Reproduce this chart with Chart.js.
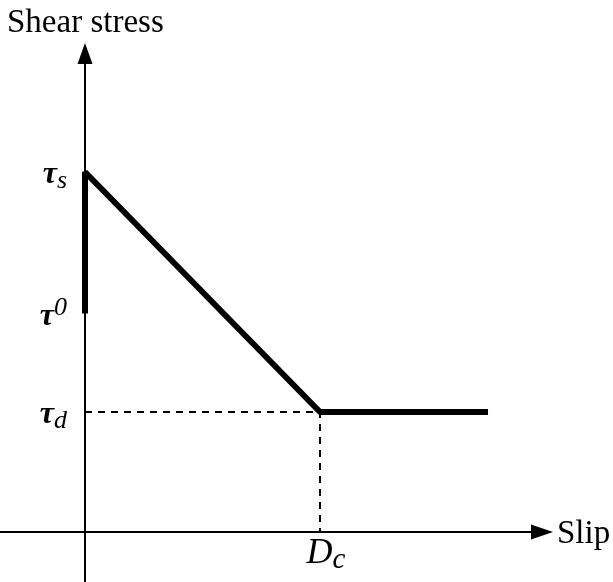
<!DOCTYPE html>
<html>
<head>
<meta charset="utf-8">
<script src="https://cdn.jsdelivr.net/npm/chart.js@4"></script>
<style>
  html, body { margin: 0; padding: 0; background: #fff; }
  #grafico { display: block; }
</style>
</head>
<body>
<canvas id="grafico" width="613" height="582"></canvas>
<script>
// slip-weakening law: slip in units of Dc, stress in units of tau_d
const slip = [0, 0, 1, 1.715];
const stress = [1.82, 3, 1, 1];

// dashed guides to Dc / tau_d
const guideSlip = [0, 1, 1];
const guideStress = [1, 1, 0];

// labels on the stress axis: [base, sub/sup, kind, value]
const stressLabels = [
  ['τ', 's', 'sub', 3],
  ['τ', '0', 'sup', 1.82],
  ['τ', 'd', 'sub', 1]
];
const slipLabels = [['D', 'c', 'sub', 1]];

const axisTitles = { x: 'Slip', y: 'Shear stress' };

const serif = '"Liberation Serif", "DejaVu Serif", serif';

const pontos = (xs, ys) => xs.map((x, i) => ({ x, y: ys[i] }));

function rotulo(ctx, base, extra, kind, x, y, size, align, peso) {
  const fb = `${peso} italic ${size}px ${serif}`;
  const fe = `italic ${Math.round(size * 0.8)}px ${serif}`;
  ctx.font = fb;
  const wb = ctx.measureText(base).width;
  ctx.font = fe;
  const we = ctx.measureText(extra).width;
  let x0 = x;
  if (align === 'right') x0 = x - wb - we;
  if (align === 'center') x0 = x - (wb + we) / 2;
  ctx.font = fb;
  ctx.fillText(base, x0, y);
  ctx.font = fe;
  ctx.fillText(extra, x0 + wb, kind === 'sub' ? y + size * 0.15 : y - size * 0.3);
}

const eixos = {
  id: 'eixos',
  beforeDatasetsDraw(chart) {
    const { ctx, scales: { x, y }, height } = chart;
    const x0 = x.getPixelForValue(0);
    const y0 = y.getPixelForValue(0);
    ctx.save();
    ctx.strokeStyle = '#000';
    ctx.fillStyle = '#000';
    ctx.lineWidth = 2;
    // stress axis
    ctx.beginPath();
    ctx.moveTo(x0, height);
    ctx.lineTo(x0, 62);
    ctx.stroke();
    ctx.beginPath();
    ctx.moveTo(x0, 43);
    ctx.lineTo(x0 - 7.5, 64);
    ctx.lineTo(x0 + 7.5, 64);
    ctx.closePath();
    ctx.fill();
    // slip axis
    ctx.beginPath();
    ctx.moveTo(0, y0);
    ctx.lineTo(534, y0);
    ctx.stroke();
    ctx.beginPath();
    ctx.moveTo(553, y0);
    ctx.lineTo(531, y0 - 7.5);
    ctx.lineTo(531, y0 + 7.5);
    ctx.closePath();
    ctx.fill();
    ctx.restore();
  },
  afterDraw(chart) {
    const { ctx, scales: { x, y } } = chart;
    const x0 = x.getPixelForValue(0);
    const y0 = y.getPixelForValue(0);
    ctx.save();
    ctx.fillStyle = '#000';
    ctx.textBaseline = 'alphabetic';
    ctx.textAlign = 'left';
    ctx.font = `33px ${serif}`;
    ctx.fillText(axisTitles.y, 7, 32);
    ctx.fillText(axisTitles.x, 557, y0 + 11);
    stressLabels.forEach(([b, e, k, v]) => {
      rotulo(ctx, b, e, k, x0 - 18, y.getPixelForValue(v) + 11, 32, 'right', 'bold');
    });
    slipLabels.forEach(([b, e, k, v]) => {
      rotulo(ctx, b, e, k, x.getPixelForValue(v) + 6, y0 + 31, 36, 'center', 'normal');
    });
    ctx.restore();
  }
};

new Chart(document.getElementById('grafico').getContext('2d'), {
  type: 'scatter',
  data: {
    datasets: [
      {
        data: pontos(guideSlip, guideStress),
        showLine: true,
        borderColor: '#000',
        borderWidth: 2,
        borderDash: [7, 6],
        pointRadius: 0,
        order: 2
      },
      {
        data: pontos(slip, stress),
        showLine: true,
        borderColor: '#000',
        borderWidth: 6,
        borderJoinStyle: 'bevel',
        borderCapStyle: 'butt',
        pointRadius: 0,
        order: 1
      }
    ]
  },
  options: {
    responsive: false,
    animation: false,
    layout: { padding: 0 },
    plugins: { legend: { display: false }, tooltip: { enabled: false } },
    scales: {
      x: { type: 'linear', display: false, min: -85 / 235, max: 528 / 235 },
      y: { type: 'linear', display: false, min: -50 / 120, max: 532 / 120 }
    }
  },
  plugins: [eixos]
});
</script>
</body>
</html>
